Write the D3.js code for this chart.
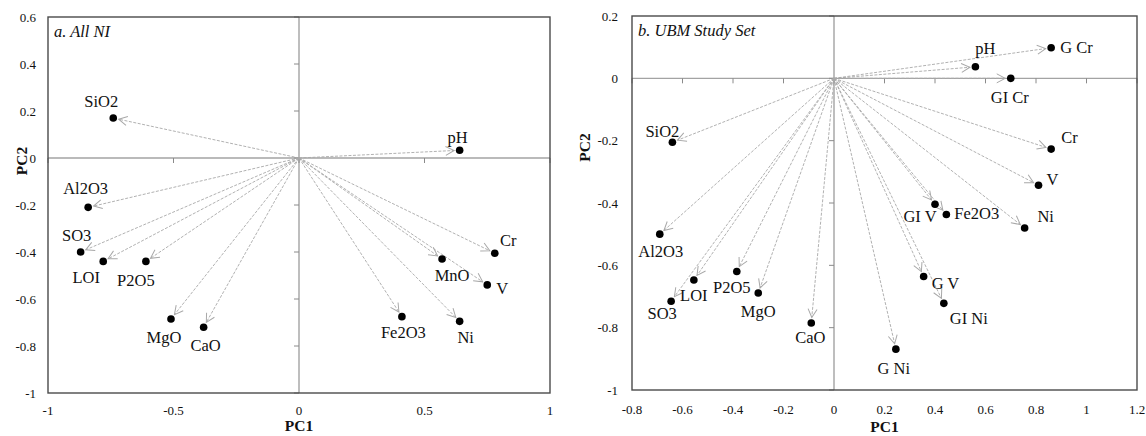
<!DOCTYPE html>
<html>
<head>
<meta charset="utf-8">
<script src="https://cdn.jsdelivr.net/npm/d3@7/dist/d3.min.js"></script>
<style>
  html, body { margin: 0; padding: 0; background: #fff; }
  svg { display: block; }
</style>
</head>
<body>
<svg id="chart" width="1146" height="436" font-family="'Liberation Serif', 'DejaVu Serif', serif"></svg>
<script>
// ---------- DATA ----------
const leftTitle = "a. All NI";
const leftNames = ["SiO2", "Al2O3", "SO3", "LOI", "P2O5", "MgO", "CaO", "pH", "Cr", "MnO", "V", "Fe2O3", "Ni"];
const leftPC1   = [-0.74, -0.84, -0.87, -0.78, -0.61, -0.51, -0.38, 0.64, 0.78, 0.57, 0.75, 0.41, 0.64];
const leftPC2   = [0.17, -0.21, -0.40, -0.44, -0.44, -0.685, -0.72, 0.033, -0.405, -0.43, -0.54, -0.675, -0.695];
const leftXTicks = [-1, -0.5, 0, 0.5, 1];
const leftYTicks = [0.6, 0.4, 0.2, 0, -0.2, -0.4, -0.6, -0.8, -1];

const rightTitle = "b. UBM Study Set";
const rightNames = ["SiO2", "pH", "G Cr", "GI Cr", "Cr", "V", "GI V", "Fe2O3", "Ni", "G V", "GI Ni", "G Ni", "Al2O3", "LOI", "SO3", "P2O5", "MgO", "CaO"];
const rightPC1   = [-0.64, 0.56, 0.86, 0.70, 0.86, 0.81, 0.40, 0.445, 0.755, 0.355, 0.435, 0.245, -0.69, -0.555, -0.645, -0.385, -0.30, -0.09];
const rightPC2   = [-0.205, 0.037, 0.098, 0.0, -0.227, -0.343, -0.404, -0.437, -0.48, -0.636, -0.722, -0.869, -0.50, -0.647, -0.715, -0.62, -0.689, -0.785];
const rightXTicks = [-0.8, -0.6, -0.4, -0.2, 0, 0.2, 0.4, 0.6, 0.8, 1, 1.2];
const rightYTicks = [0.2, 0, -0.2, -0.4, -0.6, -0.8, -1];

// ---------- LABEL PLACEMENT (px offsets from the point) ----------
const leftLabelPos = {
  "SiO2": [-12, -11, "middle"], "Al2O3": [-2.5, -13, "middle"], "SO3": [-4, -11.5, "middle"],
  "LOI": [-17, 21.5, "middle"], "P2O5": [-10, 25, "middle"], "MgO": [-7, 24.5, "middle"],
  "CaO": [2, 24, "middle"], "pH": [-2, -7, "middle"], "Cr": [13.5, -7.5, "middle"],
  "MnO": [10, 21.5, "middle"], "V": [15, 9.5, "middle"], "Fe2O3": [1.5, 21.5, "middle"],
  "Ni": [6, 21.5, "middle"]
};
const rightLabelPos = {
  "SiO2": [-10, -5, "middle"], "pH": [10, -13, "middle"], "G Cr": [9, 5.5, "start"],
  "GI Cr": [-1, 25, "middle"], "Cr": [10, -6, "start"], "V": [8, 0, "start"],
  "GI V": [-15, 18, "middle"], "Fe2O3": [8, 4, "start"], "Ni": [21, -6, "middle"],
  "G V": [8, 12, "start"], "GI Ni": [25, 21, "middle"], "G Ni": [-2, 25, "middle"],
  "Al2O3": [1, 23, "middle"], "LOI": [0, 21, "middle"], "SO3": [-9, 18, "middle"],
  "P2O5": [-5, 21, "middle"], "MgO": [0, 24, "middle"], "CaO": [-1, 20, "middle"]
};

// ---------- DRAW ----------
const FONT = "'Liberation Serif', 'DejaVu Serif', serif";
const svg = d3.select("#chart");
const defs = svg.append("defs");
defs.append("marker")
  .attr("id", "openArrow")
  .attr("viewBox", "-1 -6 11 12")
  .attr("markerUnits", "userSpaceOnUse")
  .attr("markerWidth", 11).attr("markerHeight", 12)
  .attr("refX", 8.5).attr("refY", 0)
  .attr("orient", "auto")
  .append("path")
  .attr("d", "M0,-4.5 L8.5,0 L0,4.5")
  .attr("fill", "none").attr("stroke", "#a8a8a8").attr("stroke-width", 1);

function panel(cfg) {
  const x = d3.scaleLinear().domain(cfg.xDomain).range([cfg.left, cfg.right]);
  const y = d3.scaleLinear().domain(cfg.yDomain).range([cfg.bottom, cfg.top]);
  const g = svg.append("g").attr("font-family", FONT);
  const x0 = x(0), y0 = y(0);

  // zero axes
  g.append("line").attr("x1", cfg.left).attr("x2", cfg.right).attr("y1", y0).attr("y2", y0)
    .attr("stroke", "#a3a3a3").attr("stroke-width", 1.4);
  g.append("line").attr("x1", x0).attr("x2", x0).attr("y1", cfg.top).attr("y2", cfg.bottom)
    .attr("stroke", "#a3a3a3").attr("stroke-width", 1.4);
  // tick marks on zero axes
  g.selectAll(".xt").data(cfg.xTicks).join("line")
    .attr("x1", d => x(d)).attr("x2", d => x(d)).attr("y1", y0).attr("y2", y0 + 5)
    .attr("stroke", "#8a8a8a").attr("stroke-width", 1);
  g.selectAll(".yt").data(cfg.yTicks).join("line")
    .attr("x1", x0 - 5).attr("x2", x0).attr("y1", d => y(d)).attr("y2", d => y(d))
    .attr("stroke", "#8a8a8a").attr("stroke-width", 1);

  // frame
  g.append("rect").attr("x", cfg.left).attr("y", cfg.top)
    .attr("width", cfg.right - cfg.left).attr("height", cfg.bottom - cfg.top)
    .attr("fill", "none").attr("stroke", "#4a4a4a").attr("stroke-width", 1.4);

  // tick labels
  g.selectAll(".xl").data(cfg.xTicks).join("text")
    .attr("font-family", FONT)
    .attr("x", d => x(d)).attr("y", cfg.xLabelY)
    .attr("text-anchor", "middle").attr("font-size", 13).attr("fill", "#111")
    .text(d => String(d));
  g.selectAll(".yl").data(cfg.yTicks).join("text")
    .attr("font-family", FONT)
    .attr("x", cfg.yLabelX).attr("y", d => y(d) + 4.5)
    .attr("text-anchor", "end").attr("font-size", 13).attr("fill", "#111")
    .text(d => String(d));

  // axis titles
  g.append("text").attr("font-family", FONT).attr("x", (cfg.left + cfg.right) / 2).attr("y", cfg.xTitleY)
    .attr("text-anchor", "middle").attr("font-size", 15.5).attr("font-weight", "bold").attr("fill", "#111").text("PC1");
  g.append("text").attr("font-family", FONT).attr("transform", `translate(${cfg.yTitleX},${cfg.yTitleY}) rotate(-90)`)
    .attr("text-anchor", "middle").attr("font-size", 15.5).attr("font-weight", "bold").attr("fill", "#111").text("PC2");

  // panel title
  g.append("text").attr("font-family", FONT).attr("x", cfg.left + 6).attr("y", cfg.top + 20)
    .attr("font-size", 16.5).attr("font-style", "italic").attr("fill", "#111").text(cfg.title);

  const pts = cfg.names.map((n, i) => ({ name: n, px: x(cfg.pc1[i]), py: y(cfg.pc2[i]) }));

  // arrows
  g.selectAll(".arr").data(pts).join("line")
    .attr("x1", x0).attr("y1", y0)
    .attr("x2", d => { const dx = d.px - x0, dy = d.py - y0, L = Math.hypot(dx, dy); return d.px - dx / L * 5.5; })
    .attr("y2", d => { const dx = d.px - x0, dy = d.py - y0, L = Math.hypot(dx, dy); return d.py - dy / L * 5.5; })
    .attr("stroke", "#a8a8a8").attr("stroke-width", 0.9).attr("stroke-dasharray", "3,1.5")
    .attr("marker-end", "url(#openArrow)");

  // points
  g.selectAll(".pt").data(pts).join("circle")
    .attr("cx", d => d.px).attr("cy", d => d.py).attr("r", 3.8).attr("fill", "#000");

  // labels
  g.selectAll(".lab").data(pts).join("text")
    .attr("font-family", FONT)
    .attr("x", d => d.px + cfg.labelPos[d.name][0])
    .attr("y", d => d.py + cfg.labelPos[d.name][1])
    .attr("text-anchor", d => cfg.labelPos[d.name][2])
    .attr("font-size", 16.5).attr("fill", "#111")
    .text(d => d.name);
}

panel({
  title: leftTitle, names: leftNames, pc1: leftPC1, pc2: leftPC2,
  xTicks: leftXTicks, yTicks: leftYTicks, labelPos: leftLabelPos,
  xDomain: [-1, 1], yDomain: [-1, 0.6],
  left: 48, right: 550, top: 17, bottom: 393,
  xLabelY: 415, yLabelX: 36, xTitleY: 431, yTitleX: 26.5, yTitleY: 161
});

panel({
  title: rightTitle, names: rightNames, pc1: rightPC1, pc2: rightPC2,
  xTicks: rightXTicks, yTicks: rightYTicks, labelPos: rightLabelPos,
  xDomain: [-0.8, 1.2], yDomain: [-1, 0.2],
  left: 632, right: 1137, top: 16, bottom: 390,
  xLabelY: 414, yLabelX: 618, xTitleY: 431.5, yTitleX: 590, yTitleY: 147.5
});
</script>
</body>
</html>
